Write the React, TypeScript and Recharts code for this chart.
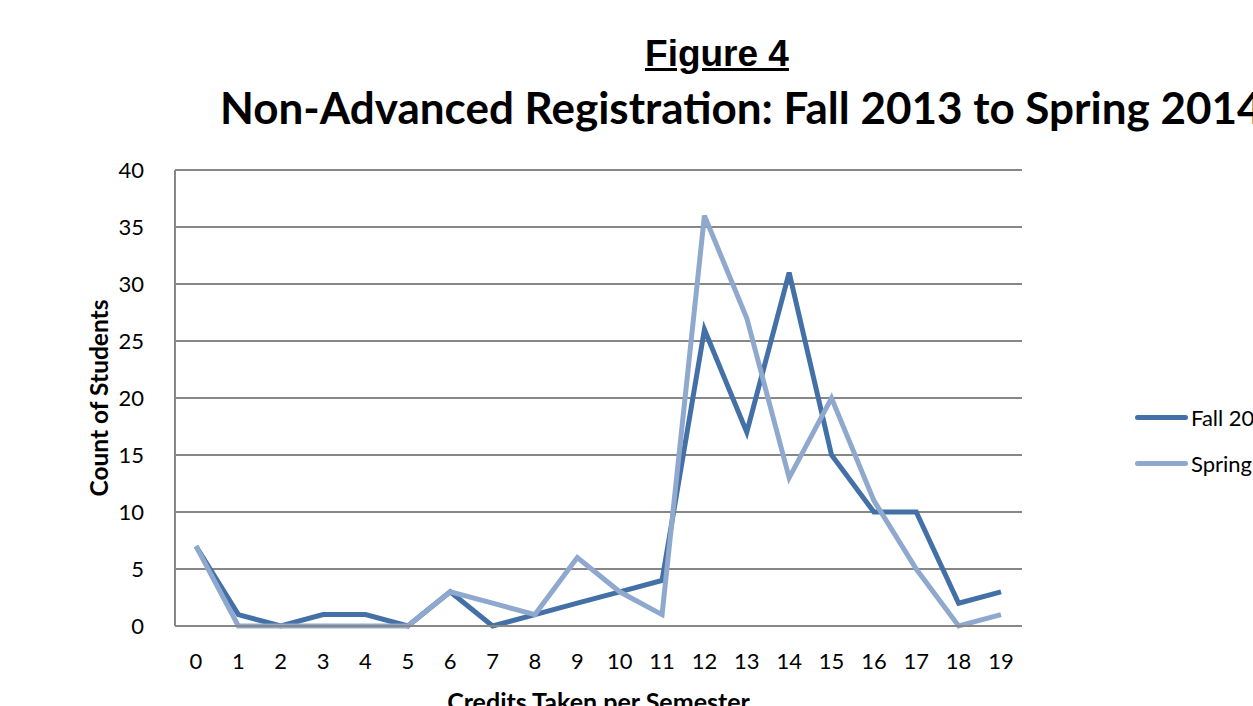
import React from "react";
import { LineChart, Line, XAxis, YAxis, CartesianGrid } from "recharts";

const credits = ["0","1","2","3","4","5","6","7","8","9","10","11","12","13","14","15","16","17","18","19"];
const fall2013 = [7, 1, 0, 1, 1, 0, 3, 0, 1, 2, 3, 4, 26, 17, 31, 15, 10, 10, 2, 3];
const spring2014 = [7, 0, 0, 0, 0, 0, 3, 2, 1, 6, 3, 1, 36, 27, 13, 20, 11, 5, 0, 1];
const yTicks = [0, 5, 10, 15, 20, 25, 30, 35, 40];
const seriesNames = ["Fall 2013", "Spring 2014"];

const data = credits.map((c, i) => ({ credit: c, fall: fall2013[i], spring: spring2014[i] }));

const FALL = "#4470A8";
const SPRING = "#8FA8CE";
const FONT = "Lato, 'Open Sans', sans-serif";

export default function App() {
  return (
    <div style={{ position: "absolute", left: 0, top: 0, width: 1253, height: 706, overflow: "hidden", background: "#fff" }}>
      <div style={{ position: "absolute", left: 0, top: 32, width: 1434, textAlign: "center", fontFamily: "'Liberation Sans', Arial, sans-serif", fontWeight: "bold", fontSize: 37, textDecoration: "underline", color: "#000", lineHeight: "44px" }}>
        Figure 4
      </div>
      <div style={{ position: "absolute", left: 220, top: 80, whiteSpace: "nowrap", fontFamily: FONT, fontWeight: "bold", fontSize: 44, color: "#000", lineHeight: "54px" }}>
        Non-Advanced Registration: Fall 2013 to Spring 2014
      </div>
      <div style={{ position: "absolute", left: 0, top: 0 }}>
        <LineChart
          width={1400}
          height={760}
          data={data}
          margin={{ top: 170, right: 378, bottom: 84, left: 115 }}
        >
          <CartesianGrid vertical={false} stroke="#878787" strokeWidth={2} />
          <XAxis
            dataKey="credit"
            height={50}
            padding={{ left: 21, right: 21 }}
            tickLine={false}
            axisLine={{ stroke: "#878787", strokeWidth: 2 }}
            tickMargin={21}
            tick={{ fontSize: 22, fill: "#000", fontFamily: FONT }}
            interval={0}
            label={{ value: "Credits Taken per Semester", position: "bottom", offset: 17, style: { fontSize: 25, fontWeight: "bold", fill: "#000", fontFamily: FONT } }}
          />
          <YAxis
            width={60}
            domain={[0, 40]}
            ticks={yTicks}
            tickLine={false}
            axisLine={{ stroke: "#878787", strokeWidth: 2 }}
            tickMargin={25}
            tick={{ fontSize: 22, fill: "#000", fontFamily: FONT }}
            label={{ value: "Count of Students", angle: -90, position: "left", offset: 16, style: { fontSize: 24.5, fontWeight: "bold", fill: "#000", fontFamily: FONT, textAnchor: "middle" } }}
          />
          <Line type="linear" dataKey="fall" name={seriesNames[0]} stroke={FALL} strokeWidth={5} dot={false} isAnimationActive={false} />
          <Line type="linear" dataKey="spring" name={seriesNames[1]} stroke={SPRING} strokeWidth={5} dot={false} isAnimationActive={false} />
        </LineChart>
      </div>
      <div style={{ position: "absolute", left: 1135, top: 394, fontFamily: FONT, fontSize: 22, color: "#000" }}>
        {[FALL, SPRING].map((color, i) => (
          <div key={seriesNames[i]} style={{ display: "flex", alignItems: "center", height: 46, whiteSpace: "nowrap" }}>
            <div style={{ width: 53, height: 5, background: color, borderRadius: 3, marginRight: 3 }} />
            <span>{seriesNames[i]}</span>
          </div>
        ))}
      </div>
    </div>
  );
}
